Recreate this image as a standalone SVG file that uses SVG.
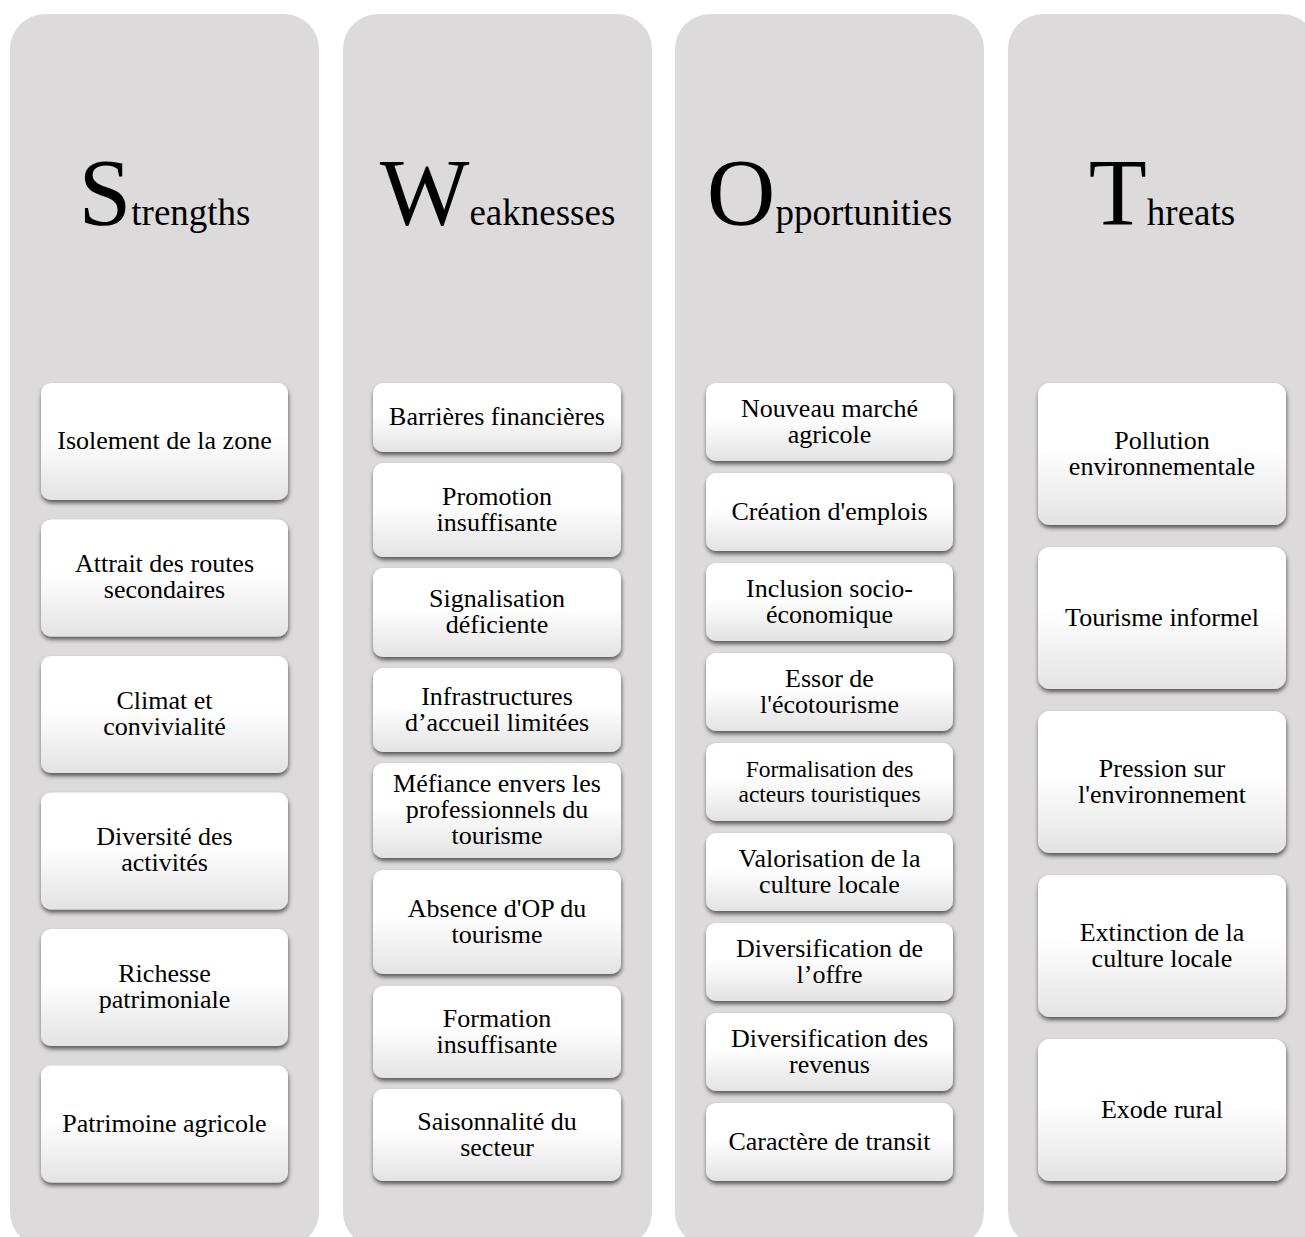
<svg xmlns="http://www.w3.org/2000/svg" width="1305" height="1237" viewBox="0 0 1305 1237">
  <defs>
    <linearGradient id="cardFill" x1="0" y1="0" x2="0" y2="1">
      <stop offset="0" stop-color="#ffffff"/>
      <stop offset="0.45" stop-color="#ffffff"/>
      <stop offset="1" stop-color="#e3e3e3"/>
    </linearGradient>
    <filter id="cardShadow" x="-10%" y="-10%" width="120%" height="130%">
      <feDropShadow dx="0.5" dy="3" stdDeviation="2.2" flood-color="#000000" flood-opacity="0.6"/>
    </filter>
  </defs>
  <style>
    .lane { fill: #dcdadb; }
    .card { fill: url(#cardFill); filter: url(#cardShadow); }
    text { font-family: "Liberation Serif", "Times New Roman", serif; fill: #000000; text-anchor: middle; }
    .item { font-size: 26px; }
    .small { font-size: 23.5px; }
    .big { font-size: 95px; }
    .rest { font-size: 37px; }
  </style>

  <rect width="1305" height="1237" fill="#ffffff"/>

  <!-- column backgrounds and headings -->
  <g id="col-strengths">
    <rect class="lane" x="10" y="14" width="309" height="1233" rx="35"/>
    <text x="164.5" y="225"><tspan class="big">S</tspan><tspan class="rest">trengths</tspan></text>
  </g>
  <g id="col-weaknesses">
    <rect class="lane" x="343" y="14" width="309" height="1233" rx="35"/>
    <text x="497.5" y="225"><tspan class="big">W</tspan><tspan class="rest">eaknesses</tspan></text>
  </g>
  <g id="col-opportunities">
    <rect class="lane" x="675" y="14" width="309" height="1233" rx="35"/>
    <text x="829.5" y="225"><tspan class="big">O</tspan><tspan class="rest">pportunities</tspan></text>
  </g>
  <g id="col-threats">
    <rect class="lane" x="1008" y="14" width="309" height="1233" rx="35"/>
    <text x="1162" y="225"><tspan class="big">T</tspan><tspan class="rest">hreats</tspan></text>
  </g>

  <!-- Strengths -->
  <g id="s1"><rect class="card" x="41" y="383" width="247" height="117" rx="10"/>
    <text class="item" x="164.5" y="449">Isolement de la zone</text></g>
  <g id="s2"><rect class="card" x="41" y="519.5" width="247" height="117" rx="10"/>
    <text class="item" y="572"><tspan x="164.5">Attrait des routes</tspan><tspan x="164.5" dy="26">secondaires</tspan></text></g>
  <g id="s3"><rect class="card" x="41" y="656" width="247" height="117" rx="10"/>
    <text class="item" y="708.5"><tspan x="164.5">Climat et</tspan><tspan x="164.5" dy="26">convivialité</tspan></text></g>
  <g id="s4"><rect class="card" x="41" y="792.5" width="247" height="117" rx="10"/>
    <text class="item" y="845"><tspan x="164.5">Diversité des</tspan><tspan x="164.5" dy="26">activités</tspan></text></g>
  <g id="s5"><rect class="card" x="41" y="929" width="247" height="117" rx="10"/>
    <text class="item" y="981.5"><tspan x="164.5">Richesse</tspan><tspan x="164.5" dy="26">patrimoniale</tspan></text></g>
  <g id="s6"><rect class="card" x="41" y="1065.5" width="247" height="117" rx="10"/>
    <text class="item" x="164.5" y="1131.5">Patrimoine agricole</text></g>

  <!-- Weaknesses -->
  <g id="w1"><rect class="card" x="373" y="383" width="248" height="69" rx="10"/>
    <text class="item" x="497" y="425">Barrières financières</text></g>
  <g id="w2"><rect class="card" x="373" y="463" width="248" height="94" rx="10"/>
    <text class="item" y="504.5"><tspan x="497">Promotion</tspan><tspan x="497" dy="26">insuffisante</tspan></text></g>
  <g id="w3"><rect class="card" x="373" y="568" width="248" height="89" rx="10"/>
    <text class="item" y="607"><tspan x="497">Signalisation</tspan><tspan x="497" dy="26">déficiente</tspan></text></g>
  <g id="w4"><rect class="card" x="373" y="668" width="248" height="84" rx="10"/>
    <text class="item" y="704.5"><tspan x="497">Infrastructures</tspan><tspan x="497" dy="26">d’accueil limitées</tspan></text></g>
  <g id="w5"><rect class="card" x="373" y="763" width="248" height="95" rx="10"/>
    <text class="item" y="792"><tspan x="497">Méfiance envers les</tspan><tspan x="497" dy="26">professionnels du</tspan><tspan x="497" dy="26">tourisme</tspan></text></g>
  <g id="w6"><rect class="card" x="373" y="870" width="248" height="104" rx="10"/>
    <text class="item" y="916.5"><tspan x="497">Absence d'OP du</tspan><tspan x="497" dy="26">tourisme</tspan></text></g>
  <g id="w7"><rect class="card" x="373" y="986" width="248" height="92" rx="10"/>
    <text class="item" y="1026.5"><tspan x="497">Formation</tspan><tspan x="497" dy="26">insuffisante</tspan></text></g>
  <g id="w8"><rect class="card" x="373" y="1089" width="248" height="92" rx="10"/>
    <text class="item" y="1129.5"><tspan x="497">Saisonnalité du</tspan><tspan x="497" dy="26">secteur</tspan></text></g>

  <!-- Opportunities -->
  <g id="o1"><rect class="card" x="706" y="383" width="247" height="78" rx="10"/>
    <text class="item" y="416.5"><tspan x="829.5">Nouveau marché</tspan><tspan x="829.5" dy="26">agricole</tspan></text></g>
  <g id="o2"><rect class="card" x="706" y="473" width="247" height="78" rx="10"/>
    <text class="item" x="829.5" y="519.5">Création d'emplois</text></g>
  <g id="o3"><rect class="card" x="706" y="563" width="247" height="78" rx="10"/>
    <text class="item" y="596.5"><tspan x="829.5">Inclusion socio-</tspan><tspan x="829.5" dy="26">économique</tspan></text></g>
  <g id="o4"><rect class="card" x="706" y="653" width="247" height="78" rx="10"/>
    <text class="item" y="686.5"><tspan x="829.5">Essor de</tspan><tspan x="829.5" dy="26">l'écotourisme</tspan></text></g>
  <g id="o5"><rect class="card" x="706" y="743" width="247" height="78" rx="10"/>
    <text class="small" y="777"><tspan x="829.5">Formalisation des</tspan><tspan x="829.5" dy="24.5">acteurs touristiques</tspan></text></g>
  <g id="o6"><rect class="card" x="706" y="833" width="247" height="78" rx="10"/>
    <text class="item" y="866.5"><tspan x="829.5">Valorisation de la</tspan><tspan x="829.5" dy="26">culture locale</tspan></text></g>
  <g id="o7"><rect class="card" x="706" y="923" width="247" height="78" rx="10"/>
    <text class="item" y="956.5"><tspan x="829.5">Diversification de</tspan><tspan x="829.5" dy="26">l’offre</tspan></text></g>
  <g id="o8"><rect class="card" x="706" y="1013" width="247" height="78" rx="10"/>
    <text class="item" y="1046.5"><tspan x="829.5">Diversification des</tspan><tspan x="829.5" dy="26">revenus</tspan></text></g>
  <g id="o9"><rect class="card" x="706" y="1103" width="247" height="78" rx="10"/>
    <text class="item" x="829.5" y="1149.5">Caractère de transit</text></g>

  <!-- Threats -->
  <g id="t1"><rect class="card" x="1038" y="383" width="248" height="142" rx="12"/>
    <text class="item" y="449"><tspan x="1162">Pollution</tspan><tspan x="1162" dy="26">environnementale</tspan></text></g>
  <g id="t2"><rect class="card" x="1038" y="547" width="248" height="142" rx="12"/>
    <text class="item" x="1162" y="625.5">Tourisme informel</text></g>
  <g id="t3"><rect class="card" x="1038" y="711" width="248" height="142" rx="12"/>
    <text class="item" y="777"><tspan x="1162">Pression sur</tspan><tspan x="1162" dy="26">l'environnement</tspan></text></g>
  <g id="t4"><rect class="card" x="1038" y="875" width="248" height="142" rx="12"/>
    <text class="item" y="941"><tspan x="1162">Extinction de la</tspan><tspan x="1162" dy="26">culture locale</tspan></text></g>
  <g id="t5"><rect class="card" x="1038" y="1039" width="248" height="142" rx="12"/>
    <text class="item" x="1162" y="1117.5">Exode rural</text></g>
</svg>
